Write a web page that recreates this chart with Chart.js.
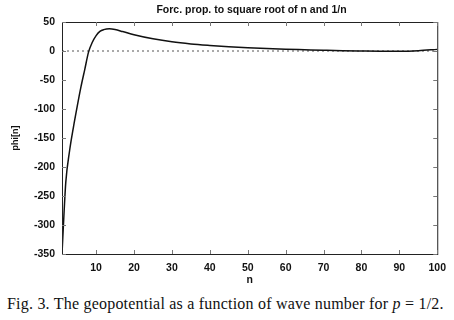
<!DOCTYPE html>
<html>
<head>
<meta charset="utf-8">
<script src="https://cdn.jsdelivr.net/npm/chart.js@4.4.1/dist/chart.umd.min.js"></script>
<style>
  html, body { margin: 0; padding: 0; background: #fff; }
  #wrap { position: relative; width: 454px; height: 320px; overflow: hidden; }
  #box { position: absolute; left: 0; top: 0; width: 454px; height: 286px; }
  #title {
    position: absolute; left: 62px; width: 379px; top: 3px; text-align: center; white-space: nowrap;
    font-family: "Liberation Sans", Arial, sans-serif; font-size: 10.5px; font-weight: bold; line-height: 12px; color: #111;
  }
  #caption {
    position: absolute; left: 7px; top: 296px; white-space: nowrap; letter-spacing: 0.21px;
    font-family: "Liberation Serif", "DejaVu Serif", serif; font-size: 16px; line-height: 16px; color: #111;
  }
</style>
</head>
<body>
<div id="wrap">
  <div id="box"><canvas id="phiChart"></canvas></div>
  <div id="title">Forc. prop. to square root of n and 1/n</div>
  <div id="caption">Fig. 3. The geopotential as a function of wave number for <i>p</i> = 1/2.</div>
</div>
<script>
const nValues = [1, 1.5, 2, 3, 4, 5, 6, 7, 8, 9, 10, 11, 12, 13.5, 15, 17, 20, 25, 30, 35, 40, 45, 50, 55, 60, 65, 70, 75, 80, 85, 90, 95, 100];
const phiValues = [-350, -284, -226, -172, -132, -96, -62, -32, -2, 15, 26.5, 33.8, 36.8, 38.2, 37, 33.5, 28, 21, 15.8, 12.2, 9.6, 7.4, 5.6, 4.2, 3.1, 2.2, 1.3, 0.5, 0, -0.4, -0.5, 0.4, 2.8];
const zeroX = [1, 100];
const zeroY = [0, 0];
const xTicks = [10, 20, 30, 40, 50, 60, 70, 80, 90, 100];
const yTicks = [-350, -300, -250, -200, -150, -100, -50, 0, 50];

const labelFont = { family: 'Liberation Sans', size: 10.5, weight: 'bold' };

// box round the plot plus small inward tics like gnuplot
const frame = {
    id: 'frame',
    afterDraw(chart) {
        const c = chart.ctx;
        const a = chart.chartArea;
        const xs = chart.scales.x;
        const ys = chart.scales.y;
        c.save();
        c.strokeStyle = '#222';
        c.lineWidth = 1;
        c.strokeRect(a.left + 0.5, a.top + 0.5, a.right - a.left, a.bottom - a.top);
        c.strokeStyle = '#777';
        c.beginPath();
        xTicks.forEach(v => {
            const px = Math.round(xs.getPixelForValue(v)) + 0.5;
            c.moveTo(px, a.bottom); c.lineTo(px, a.bottom - 4);
            c.moveTo(px, a.top); c.lineTo(px, a.top + 4);
        });
        yTicks.forEach(v => {
            const py = Math.round(ys.getPixelForValue(v)) + 0.5;
            c.moveTo(a.left, py); c.lineTo(a.left + 4, py);
            c.moveTo(a.right, py); c.lineTo(a.right - 4, py);
        });
        c.stroke();
        c.restore();
    }
};

const ctx = document.getElementById('phiChart').getContext('2d');
new Chart(ctx, {
    type: 'line',
    data: {
        datasets: [{
            data: nValues.map((n, i) => ({ x: n, y: phiValues[i] })),
            borderColor: '#111',
            borderWidth: 1.5,
            pointRadius: 0,
            cubicInterpolationMode: 'monotone',
            fill: false
        }, {
            data: zeroX.map((n, i) => ({ x: n, y: zeroY[i] })),
            borderColor: '#555',
            borderWidth: 1,
            borderDash: [2, 3],
            pointRadius: 0,
            fill: false
        }]
    },
    options: {
        responsive: true,
        maintainAspectRatio: false,
        animation: false,
        layout: { padding: { left: 0, right: 14, top: 22, bottom: 0 } },
        plugins: {
            legend: { display: false },
            tooltip: { enabled: false },
            title: { display: false }
        },
        scales: {
            x: {
                type: 'linear',
                min: 1,
                max: 100,
                afterBuildTicks: s => { s.ticks = xTicks.map(v => ({ value: v })); },
                afterFit: s => { s.height = 32; },
                grid: { display: false, drawTicks: false },
                border: { display: true, color: '#222', width: 1 },
                ticks: { padding: 8, color: '#111', font: labelFont },
                title: {
                    display: true, text: 'n', color: '#111',
                    font: labelFont,
                    padding: { top: -3.5, bottom: 0 }
                }
            },
            y: {
                min: -350,
                max: 50,
                afterBuildTicks: s => { s.ticks = yTicks.map(v => ({ value: v })); },
                afterFit: s => { s.width = 62; },
                grid: { display: false, drawTicks: false },
                border: { display: true, color: '#222', width: 1 },
                ticks: { padding: 7, color: '#111', font: labelFont },
                title: {
                    display: true, text: 'phi[n]', color: '#111',
                    font: { family: 'Liberation Sans', size: 9, weight: 'bold' },
                    padding: { top: 10, bottom: 0 }
                }
            }
        }
    },
    plugins: [frame]
});
</script>
</body>
</html>
